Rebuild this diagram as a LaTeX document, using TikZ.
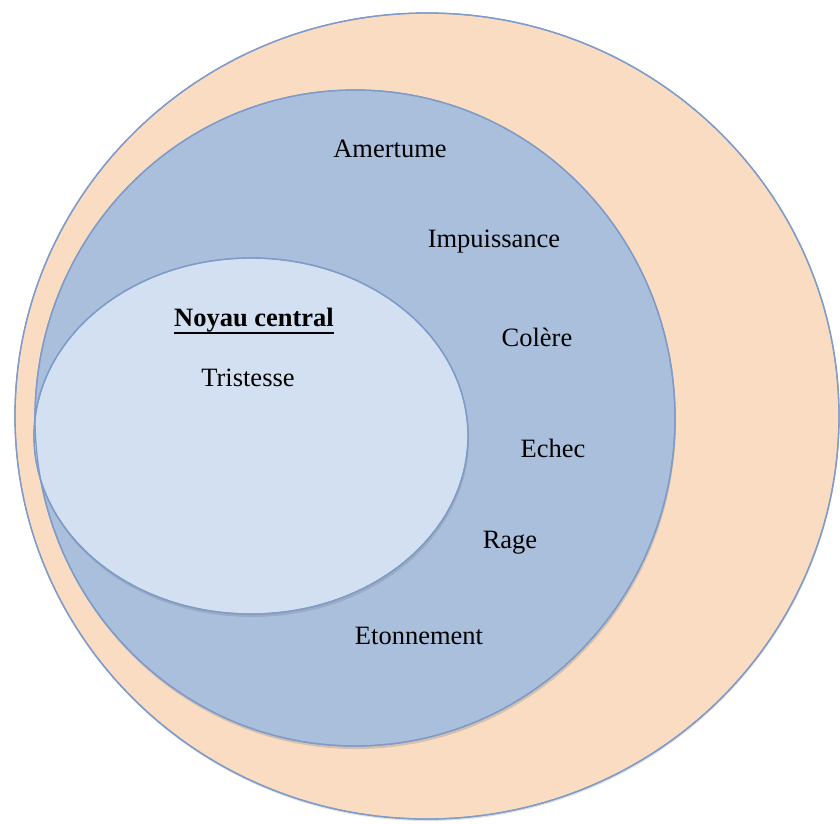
\documentclass[tikz,border=0pt]{standalone}
\usepackage{fontspec}
\setmainfont{Liberation Serif}
\usetikzlibrary{shadows}
\definecolor{peach}{HTML}{F9DCC2}
\definecolor{midblue}{HTML}{A9BFDC}
\definecolor{paleblue}{HTML}{D2E0F1}
\definecolor{rim}{HTML}{7E9BC9}
\begin{document}
\begin{tikzpicture}[x=1pt,y=-1pt,
ring/.style={draw=rim,line width=1.3pt},
lbl/.style={font=\fontsize{26.5}{31}\selectfont,inner sep=0pt}]
\useasboundingbox (0,0) rectangle (840,823);
\fill[ring,fill=peach,drop shadow={shadow xshift=0.5pt,shadow yshift=-2pt,opacity=0.25}] (427,416) ellipse [x radius=412,y radius=403];
\fill[ring,fill=midblue,drop shadow={shadow xshift=1pt,shadow yshift=-3pt,opacity=0.3}] (355,418) ellipse [x radius=320,y radius=328];
\fill[ring,fill=paleblue,drop shadow={shadow xshift=1pt,shadow yshift=-3pt,opacity=0.3}] (251,436) ellipse [x radius=217,y radius=178];
\draw[ring] (427,416) ellipse [x radius=412,y radius=403];
\draw[ring] (355,418) ellipse [x radius=320,y radius=328];
\draw[ring] (251,436) ellipse [x radius=217,y radius=178];
% texts
\node[lbl] (noyau) at (254,320) {\textbf{Noyau central}};
\draw[line width=1.6pt] ([yshift=-1pt]noyau.south west) -- ([yshift=-1pt]noyau.south east);
\node[lbl] (tristesse) at (248,378) {Tristesse};
\node[lbl] (amertume) at (390,149) {Amertume};
\node[lbl] (impuissance) at (494,242) {Impuissance};
\node[lbl] (colere) at (537,337) {Colère};
\node[lbl] (echec) at (553,448) {Echec};
\node[lbl] (rage) at (510,543) {Rage};
\node[lbl] (etonnement) at (419,636) {Etonnement};
\end{tikzpicture}
\end{document}
